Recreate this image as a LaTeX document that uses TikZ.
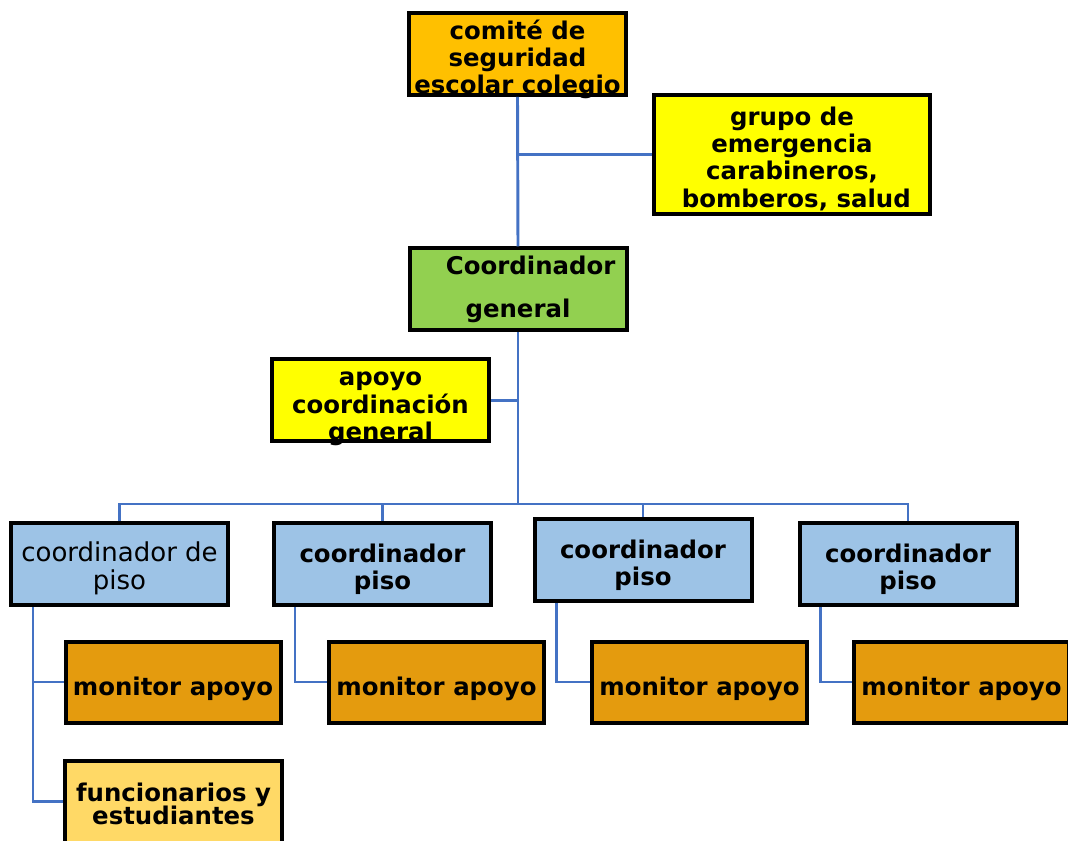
\documentclass[tikz,border=0pt]{standalone}
\usepackage{fontspec}
\setmainfont{DejaVu Sans}
\usepackage{tikz}
\definecolor{comiteorange}{RGB}{255,192,0}
\definecolor{emergyellow}{RGB}{255,255,0}
\definecolor{coordgreen}{RGB}{146,208,80}
\definecolor{pisoblue}{RGB}{157,195,230}
\definecolor{monitororange}{RGB}{228,155,14}
\definecolor{funcyellow}{RGB}{255,217,102}
\definecolor{linkblue}{RGB}{68,114,196}
\newcommand{\cuttext}[2]{\raisebox{#1}[0pt][0pt]{\begin{tabular}{@{}c@{}}#2\end{tabular}}}

\begin{document}
\begin{tikzpicture}[x=0.75pt,y=0.75pt,yscale=-1,xscale=1,
	orgbox/.style={draw=black,line width=3pt,rectangle,inner sep=0pt,minimum width=162.75pt,minimum height=61.5pt,align=center,font={\fontsize{18.3}{20.5}\selectfont\bfseries}},
	monbox/.style={orgbox,fill=monitororange,minimum width=161.25pt,minimum height=60.75pt},
	link/.style={draw=linkblue,line width=2.2pt}]
	%set diagram size to 1068 x 841
	\clip (0,0) rectangle (1068,841);

	%Shape: Rectangle [comite]
	\node (comite) [orgbox,fill=comiteorange] at (517.5,54) {\cuttext{-9.5pt}{comité de\\seguridad\\escolar colegio}};
	%Shape: Rectangle [grupo]
	\node (grupo) [orgbox,fill=emergyellow,minimum width=207pt,minimum height=89.25pt] at (792,154.5) {\cuttext{-8.85pt}{grupo de\\emergencia\\carabineros,\\\ bomberos, salud}};
	%Shape: Rectangle [coordgen]
	\node (coordgen) [orgbox,fill=coordgreen] at (518,289.5) {\hspace*{19pt}Coordinador\\[12pt]general};
	%Shape: Rectangle [apoyo]
	\node (apoyo) [orgbox,fill=emergyellow] at (380.5,400.5) {\cuttext{-9.6pt}{apoyo\\coordinación\\general}};

	%Shape: Rectangle [piso]
	\node (piso1) [orgbox,fill=pisoblue,font={\fontsize{19.5}{20.5}\selectfont}] at (119.5,564) {\cuttext{-9.5pt}{coordinador de\\piso}};
	\node (piso2) [orgbox,fill=pisoblue] at (382.5,564) {\cuttext{-9pt}{coordinador\\piso}};
	\node (piso3) [orgbox,fill=pisoblue] at (643,560) {\cuttext{-9pt}{coordinador\\piso}};
	\node (piso4) [orgbox,fill=pisoblue] at (908,564) {\cuttext{-9pt}{coordinador\\piso}};

	%Shape: Rectangle [monitor]
	\node (mon1) [monbox] at (173,682) {\cuttext{-10pt}{monitor apoyo}};
	\node (mon2) [monbox] at (436.5,682) {\cuttext{-10pt}{monitor apoyo}};
	\node (mon3) [monbox] at (699.5,682) {\cuttext{-10pt}{monitor apoyo}};
	\node (mon4) [monbox] at (961.5,682) {\cuttext{-10pt}{monitor apoyo}};
	%Shape: Rectangle [func]
	\node (func) [orgbox,fill=funcyellow] at (173.5,801.5) {\cuttext{-9pt}{funcionarios y\\[-3pt]estudiantes}};

	%Straight Lines
	\coordinate (bar) at (518,504);
	\draw [link] (comite.south) -- (coordgen.north);
	\draw [link] (comite.south |- grupo.west) -- (grupo.west);
	\draw [link] (coordgen.south) -- (bar);
	\draw [link] (apoyo.east) -- (apoyo.east -| coordgen.south);
	\draw [link] (piso1.north) |- (bar) -| (piso4.north);
	\draw [link] (piso2.north) -- (piso2.north |- bar);
	\draw [link] (piso3.north) -- (piso3.north |- bar);
	\draw [link] ([xshift=18pt]piso1.south west) |- (mon1.west);
	\draw [link] ([xshift=18pt]piso1.south west) |- (func.west);
	\draw [link] ([xshift=17.25pt]piso2.south west) |- (mon2.west);
	\draw [link] ([xshift=18pt]piso3.south west) |- (mon3.west);
	\draw [link] ([xshift=17.5pt]piso4.south west) |- (mon4.west);

\end{tikzpicture}
\end{document}
